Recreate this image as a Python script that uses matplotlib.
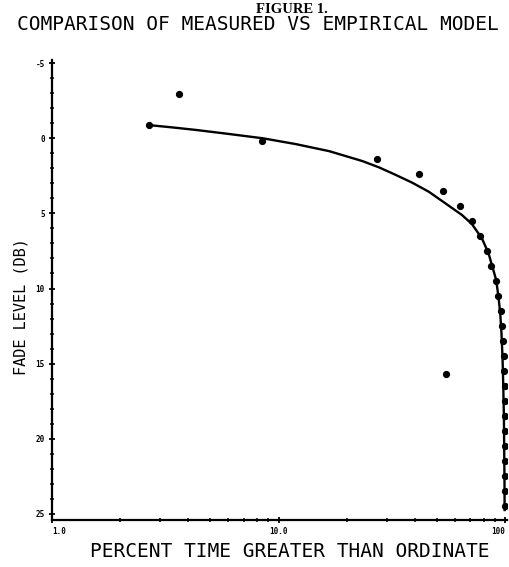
import matplotlib
matplotlib.use("Agg")
import matplotlib.pyplot as plt
from matplotlib.ticker import FixedLocator, MultipleLocator, LogLocator, NullFormatter

# Empirical model curve (percent time vs fade level dB)
model_pct = [2.70, 3.40, 4.33, 6.06, 8.49, 11.9, 16.7, 23.4, 27.7, 32.7, 38.7, 45.9, 54.3,
             64.3, 71.1, 78.7, 84.2, 90.1, 91.0, 93.1, 94.8, 96.0, 97.0, 97.7, 98.4,
             98.7, 99.0, 99.1]
model_db = [-0.87, -0.72, -0.55, -0.28, 0.0, 0.39, 0.86, 1.52, 1.94, 2.43, 2.95, 3.56, 4.33,
            5.11, 5.71, 6.66, 7.66, 9.21, 9.44, 10.55, 11.65, 12.98, 14.54, 16.31, 18.53,
            20.75, 22.96, 24.74]

# Measured points
meas_pct = [2.67, 3.62, 8.46, 27.0, 41.5, 53.0, 63.1, 71.1, 77.4, 82.5, 86.4,
            91.0, 93.1, 95.3, 96.4, 97.1, 98.0, 98.7, 99.0, 99.2, 99.35, 99.45,
            99.55, 99.62, 99.7, 99.75, 99.8, 54.5]
meas_db = [-0.87, -2.93, 0.2, 1.4, 2.4, 3.5, 4.5, 5.5, 6.5, 7.5, 8.5,
           9.5, 10.5, 11.5, 12.5, 13.5, 14.5, 15.5, 16.5, 17.5, 18.5, 19.5,
           20.5, 21.5, 22.5, 23.5, 24.5, 15.7]

x_ticks = [1.0, 10.0, 100.0]
x_ticklabels = ["1.0", "10.0", "100"]
y_ticks = [-5, 0, 5, 10, 15, 20, 25]
y_ticklabels = ["-5", "0", "5", "10", "15", "20", "25"]

fig = plt.figure(figsize=(5.09, 5.67), dpi=100)
ax = fig.add_axes([0.102, 0.083, 0.894, 0.811])

ax.plot(model_pct, model_db, color="black", lw=1.7, solid_joinstyle="round")
ax.plot(meas_pct, meas_db, "o", color="black", ms=4.2, mec="black")

ax.set_xscale("log")
ax.set_xlim(1.0, 101.5)
ax.set_ylim(25.4, -5.2)

ax.xaxis.set_major_locator(FixedLocator(x_ticks))
ax.set_xticklabels(x_ticklabels)
ax.xaxis.set_minor_locator(LogLocator(base=10, subs=range(2, 10)))
ax.xaxis.set_minor_formatter(NullFormatter())
ax.yaxis.set_major_locator(FixedLocator(y_ticks))
ax.set_yticklabels(y_ticklabels)
ax.yaxis.set_minor_locator(MultipleLocator(1))

for s in ["top", "right"]:
    ax.spines[s].set_visible(False)
for s in ["left", "bottom"]:
    ax.spines[s].set_linewidth(1.6)

ax.tick_params(axis="both", which="major", length=4, width=1.3, direction="inout",
               labelsize=5.5, pad=3)
ax.tick_params(axis="both", which="minor", length=3, width=1.1, direction="inout")
for lab in ax.get_xticklabels() + ax.get_yticklabels():
    lab.set_fontweight("bold")
    lab.set_family("DejaVu Sans Mono")
ax.get_xticklabels()[-1].set_horizontalalignment("right")
ax.get_xticklabels()[0].set_horizontalalignment("left")

ax.set_xlabel("PERCENT TIME GREATER THAN ORDINATE", family="DejaVu Sans Mono",
              fontsize=14)
ax.xaxis.set_label_coords(0.523, -0.048)
ax.set_ylabel("FADE LEVEL (DB)", family="DejaVu Sans Mono", fontsize=11)
ax.yaxis.set_label_coords(-0.068, 0.465)
ax.yaxis.label.set_verticalalignment("center")

fig.text(0.573, 0.995, "FIGURE 1.", family="Liberation Serif", fontweight="bold",
         fontsize=10.5, ha="center", va="top")
fig.text(0.507, 0.974, "COMPARISON OF MEASURED VS EMPIRICAL MODEL",
         family="DejaVu Sans Mono", fontsize=14, ha="center", va="top")

fig.savefig("out.png", dpi=100)
